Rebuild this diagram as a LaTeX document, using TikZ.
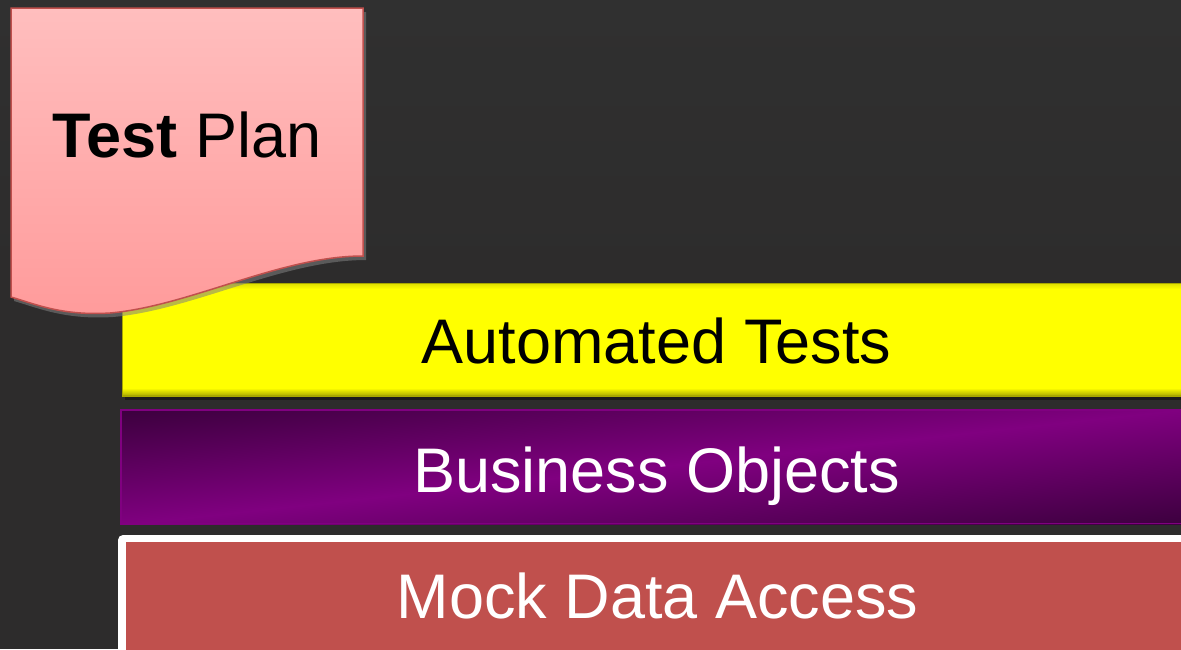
\documentclass[tikz,border=0pt]{standalone}
\usepackage{fontspec}
\setmainfont{Liberation Sans}
\usetikzlibrary{shadows}
\definecolor{bgdark}{HTML}{2D2C2C}
\definecolor{bgtop}{HTML}{303030}
\definecolor{planfilltop}{HTML}{FFBEBE}
\definecolor{planfillbot}{HTML}{FF9B9B}
\definecolor{planline}{HTML}{C0504D}
\definecolor{testyellow}{HTML}{FFFF00}
\definecolor{yellowedge}{HTML}{A8A800}
\definecolor{purplemid}{HTML}{800080}
\definecolor{purpledark}{HTML}{3C003E}
\definecolor{mockred}{HTML}{C0504D}
\tikzset{
  layertext/.style={font=\fontsize{63}{70}\selectfont, anchor=base, inner sep=0pt},
  softshadow/.style={drop shadow={opacity=0.55, shadow xshift=3pt, shadow yshift=-4pt}}
}
\begin{document}
\begin{tikzpicture}[x=1pt,y=-1pt]
  % canvas
  \useasboundingbox (0,0) rectangle (1181,649);
  \shade[top color=bgtop, bottom color=bgdark] (0,0) rectangle (1181,280);
  \fill[bgdark] (0,280) rectangle (1181,649);
  \clip (0,0) rectangle (1181,649);

  % bottom layer: mock data access
  \fill[white, rounded corners=5pt] (118,535) rectangle (1200,670);
  \fill[mockred] (126,542) rectangle (1200,670);
  \node[layertext, text=white] (mock) at (657.5,618) {Mock Data Access};

  % middle layer: business objects, diagonal dark-bright-dark shading
  \begin{scope}
    \clip (120,409) rectangle (1200,524);
    \begin{scope}[transform canvas={rotate around={6.2:(660,466.5)}}]
      \shade[top color=purpledark, bottom color=purpledark, middle color=purplemid]
        (-100,352) rectangle (1420,581);
    \end{scope}
  \end{scope}
  \draw[purplemid, line width=1.5pt] (120.75,409.75) rectangle (1200,523.25);
  \node[layertext, text=white] (business) at (656.5,492) {Business Objects};

  % top layer: automated tests
  \fill[black, opacity=0.35] (125,287) rectangle (1200,400);
  \fill[testyellow] (122,283) rectangle (1200,396);
  \shade[top color=yellowedge!40!testyellow, bottom color=testyellow] (122,283) rectangle (1200,289);
  \shade[top color=testyellow, bottom color=yellowedge] (122,388) rectangle (1200,396);
  \draw[yellowedge, line width=1pt] (122.5,283.5) rectangle (1200,395.5);
  \node[layertext, text=black] (automated) at (656.5,363) {Automated Tests};

  % test plan document
  \path[softshadow, top color=planfilltop, bottom color=planfillbot, draw=planline, line width=1.5pt]
    (11,8) -- (363,8) -- (363,256)
    .. controls (280,256) and (190,306) .. (110,313)
    .. controls (62,316) and (35,304) .. (11,297) -- cycle;
  \node[layertext, text=black] (plan) at (187,157) {\textbf{Test} Plan};
\end{tikzpicture}
\end{document}
